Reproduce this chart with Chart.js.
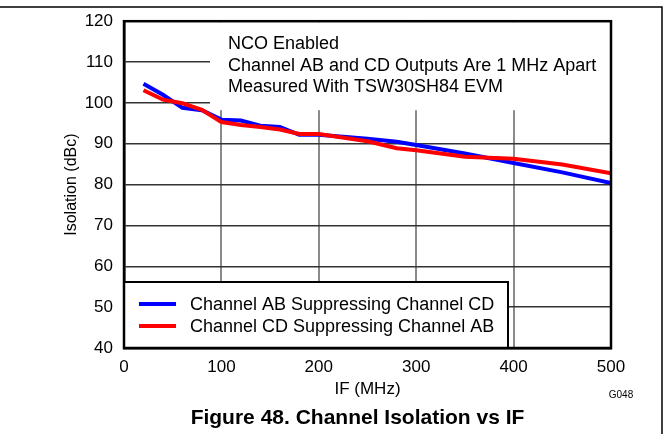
<!DOCTYPE html>
<html>
<head>
<meta charset="utf-8">
<script src="https://cdn.jsdelivr.net/npm/chart.js@4/dist/chart.umd.min.js"></script>
<style>
  html, body { margin: 0; padding: 0; background: #fff; }
  #wrap { width: 669px; height: 434px; }
</style>
</head>
<body>
<div id="wrap"><canvas id="g_isolation"></canvas></div>
<script>
// IF frequency points (MHz)
var ifMHz = [20, 40, 60, 80, 100, 120, 140, 160, 180, 200, 250, 280, 300, 350, 400, 450, 500];
// isolation in dBc
var abSuppressingCd = [104.7, 102.0, 98.8, 98.2, 95.9, 95.7, 94.4, 94.1, 92.2, 92.2, 91.2, 90.5, 89.7, 87.6, 85.3, 83.0, 80.4];
var cdSuppressingAb = [103.1, 100.8, 99.9, 98.3, 95.3, 94.6, 94.1, 93.5, 92.4, 92.4, 90.6, 88.9, 88.4, 86.8, 86.3, 84.9, 82.8];
var seriesLabels = ['Channel AB Suppressing Channel CD', 'Channel CD Suppressing Channel AB'];
var seriesColors = ['#0000ff', '#ff0000'];
var notes = ['NCO Enabled', 'Channel AB and CD Outputs Are 1 MHz Apart', 'Measured With TSW30SH84 EVM'];
var figTitle = 'Figure 48. Channel Isolation vs IF';
var figCode = 'G048';

var FONT = '"Liberation Sans", Arial, Helvetica, sans-serif';

function pts(xs, ys){
    var out = [];
    for (let i = 0; i < xs.length; i++) {
        out.push({x: xs[i], y: ys[i]});
    }
    return out;
}

// white boxes that hide the grid behind the notes and the legend
var boxesPlugin = {
    id: 'boxes',
    beforeDatasetsDraw: function(chart){
        var ctx = chart.ctx, a = chart.chartArea;
        ctx.save();
        ctx.fillStyle = '#fff';
        ctx.fillRect(a.left + 86, a.top + 1, a.right - a.left - 87, 88);
        ctx.fillRect(a.left, a.bottom - 66, 384, 66);
        ctx.restore();
    },
    afterDraw: function(chart){
        var ctx = chart.ctx, a = chart.chartArea;
        ctx.save();
        // plot frame
        ctx.strokeStyle = '#000';
        ctx.lineWidth = 2.5;
        ctx.strokeRect(a.left, a.top, a.right - a.left, a.bottom - a.top);

        // legend box
        var lx = a.left, ly = a.bottom - 66, lw = 384;
        ctx.lineWidth = 2;
        ctx.beginPath();
        ctx.moveTo(lx, ly);
        ctx.lineTo(lx + lw, ly);
        ctx.lineTo(lx + lw, a.bottom);
        ctx.stroke();
        ctx.font = '18px ' + FONT;
        ctx.textBaseline = 'middle';
        ctx.textAlign = 'left';
        chart.data.datasets.forEach(function(ds, i){
            var yy = ly + 22 + i * 22;
            ctx.strokeStyle = ds.borderColor;
            ctx.lineWidth = 4;
            ctx.beginPath();
            ctx.moveTo(lx + 15, yy);
            ctx.lineTo(lx + 52, yy);
            ctx.stroke();
            ctx.fillStyle = '#000';
            ctx.fillText(ds.label, lx + 66, yy + 1);
        });

        // notes
        ctx.fillStyle = '#000';
        notes.forEach(function(t, i){
            ctx.fillText(t, a.left + 104, a.top + 23 + i * 21.5);
        });

        // figure title and code
        ctx.textAlign = 'center';
        ctx.font = 'bold 21px ' + FONT;
        ctx.fillText(figTitle, (a.left + a.right) / 2 - 10, 418);
        ctx.font = '10px ' + FONT;
        ctx.fillText(figCode, 621, 395);

        // page frame
        ctx.strokeStyle = '#000';
        ctx.lineWidth = 1.5;
        ctx.beginPath();
        ctx.moveTo(0, 7);
        ctx.lineTo(662, 7);
        ctx.lineTo(662, 434);
        ctx.stroke();
        ctx.restore();
    }
};

var ctx = document.getElementById('g_isolation');
var isoChart = new Chart(ctx, {
    type: 'line',
    data: {
        datasets: [{
            label: seriesLabels[0],
            data: pts(ifMHz, abSuppressingCd),
            borderColor: seriesColors[0],
            borderWidth: 4,
            pointRadius: 0,
            tension: 0,
            order: 2
        },
        {
            label: seriesLabels[1],
            data: pts(ifMHz, cdSuppressingAb),
            borderColor: seriesColors[1],
            borderWidth: 4,
            pointRadius: 0,
            tension: 0,
            order: 1
        }]
    },
    options: {
        responsive: true,
        maintainAspectRatio: false,
        animation: false,
        devicePixelRatio: 1,
        layout: { padding: { left: 0, top: 19, right: 58, bottom: 0 } },
        plugins: {
            legend: { display: false },
            tooltip: { enabled: false }
        },
        scales: {
            x: {
                type: 'linear',
                min: 0,
                max: 500,
                ticks: { stepSize: 100, color: '#000', padding: 9, font: { family: FONT, size: 17 } },
                grid: { color: '#8a8a8a', lineWidth: 2, drawTicks: false },
                border: { color: '#000', width: 2.5 },
                title: { display: true, text: 'IF (MHz)', color: '#000', font: { family: FONT, size: 17 }, padding: { top: 0, bottom: 34 } },
                afterFit: function(scale){ scale.height = 86; }
            },
            y: {
                min: 40,
                max: 120,
                ticks: { stepSize: 10, color: '#000', padding: 11, font: { family: FONT, size: 17 } },
                grid: { color: '#333', lineWidth: 1.5, drawTicks: false },
                border: { color: '#000', width: 2.5 },
                title: { display: true, text: 'Isolation (dBc)', color: '#000', font: { family: FONT, size: 16 }, padding: { top: 62, bottom: 0 } },
                afterFit: function(scale){ scale.width = 124; }
            }
        }
    },
    plugins: [boxesPlugin]
});
</script>
</body>
</html>
